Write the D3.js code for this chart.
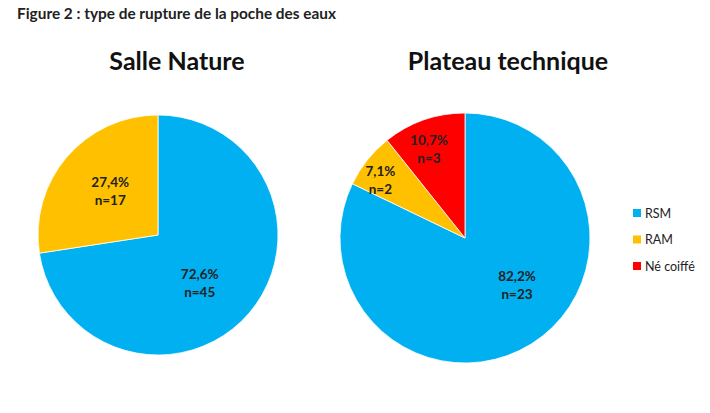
<!DOCTYPE html>
<html><head><meta charset="utf-8">
<script src="https://cdn.jsdelivr.net/npm/d3@7"></script>
<style>body{margin:0;background:#fff;}svg{display:block;}</style>
</head><body>
<script>
const figureTitle = "Figure 2 : type de rupture de la poche des eaux";
const categories = ["RSM", "RAM", "Né coiffé"];
const colors = ["#00B0F0", "#FFC000", "#FF0000"];
const pieTitles = ["Salle Nature", "Plateau technique"];
const salleNatureCounts = [45, 17, 0];
const salleNaturePct = ["72,6%", "27,4%", ""];
const plateauCounts = [23, 2, 3];
const plateauPct = ["82,2%", "7,1%", "10,7%"];

const W = 710, H = 413;
const font = "Lato, 'Open Sans', sans-serif";
const svg = d3.select("body").append("svg").attr("width", W).attr("height", H);

svg.append("text").attr("x", 17).attr("y", 19).attr("font-family", font)
  .attr("font-weight", "bold").attr("font-size", 15).attr("fill", "#222")
  .attr("textLength", 319).attr("lengthAdjust", "spacingAndGlyphs").text(figureTitle);

// label placement (layout): angle in degrees from 12 o'clock, radius as fraction of r
const pies = [
  {title: pieTitles[0], counts: salleNatureCounts, pct: salleNaturePct, cx: 158, cy: 235, r: 120, tx: 177,
   place: [[139, 0.53], [312.5, 0.54], [0, 0]]},
  {title: pieTitles[1], counts: plateauCounts, pct: plateauPct, cx: 465, cy: 238, r: 125, tx: 508,
   place: [[132, 0.56], [304.3, 0.82], [338, 0.77]]}
];

const pie = d3.pie().sort(null).value(d => d.v);

pies.forEach(p => {
  svg.append("text").attr("x", p.tx).attr("y", 70).attr("text-anchor", "middle")
    .attr("font-family", font).attr("font-weight", "bold").attr("font-size", 25)
    .attr("fill", "#111").text(p.title);
  const data = categories.map((c, i) => ({c, i, v: p.counts[i], pct: p.pct[i], color: colors[i]}));
  const arcs = pie(data).filter(a => a.data.v > 0);
  const g = svg.append("g").attr("transform", `translate(${p.cx},${p.cy})`);
  const arc = d3.arc().innerRadius(0).outerRadius(p.r);
  g.selectAll("path").data(arcs).join("path").attr("d", arc)
    .attr("fill", d => d.data.color).attr("stroke", "#fff").attr("stroke-width", 0.8);
  const lbl = g.selectAll("g.lbl").data(arcs).join("g").attr("class", "lbl")
    .attr("transform", d => {
      const [deg, f] = p.place[d.data.i];
      const a = deg * Math.PI / 180, rr = p.r * f;
      return `translate(${Math.sin(a) * rr},${-Math.cos(a) * rr})`;
    });
  lbl.append("text").attr("text-anchor", "middle").attr("y", -4)
    .attr("font-family", font).attr("font-weight", "bold").attr("font-size", 13.5)
    .attr("fill", "#222").text(d => d.data.pct);
  lbl.append("text").attr("text-anchor", "middle").attr("y", 14)
    .attr("font-family", font).attr("font-weight", "bold").attr("font-size", 13.5)
    .attr("fill", "#222").text(d => "n=" + d.data.v);
});

const leg = svg.append("g").attr("transform", "translate(633,213)");
const li = leg.selectAll("g").data(categories).join("g")
  .attr("transform", (d, i) => `translate(0,${i * 26.5})`);
li.append("rect").attr("x", 0).attr("y", -4).attr("width", 8).attr("height", 8)
  .attr("fill", (d, i) => colors[i]);
li.append("text").attr("x", 12).attr("y", 4.5).attr("font-family", font)
  .attr("font-size", 12.5).attr("fill", "#222").text(d => d);
</script>
</body></html>
